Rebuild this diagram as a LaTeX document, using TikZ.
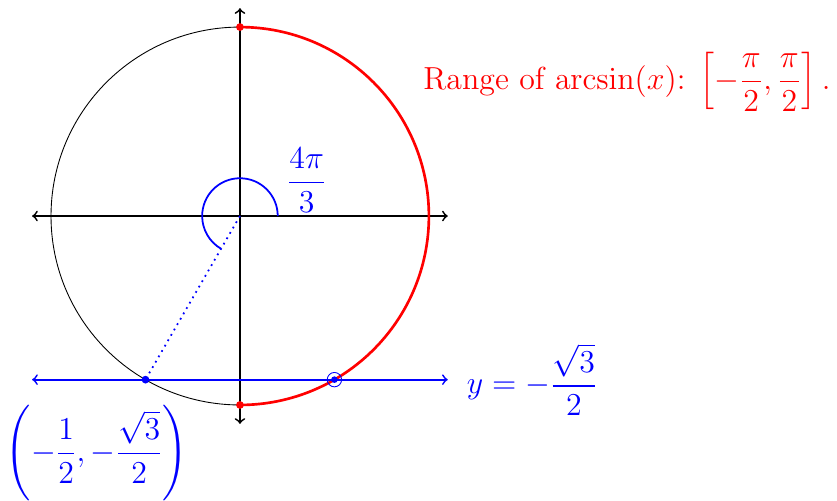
\documentclass[tikz,border=0pt]{standalone}
\usepackage{amsmath}
\usetikzlibrary{calc,positioning}
\tikzset{
	axis/.style={<->, thick, black},%
	unitcircle/.style={thin, black},%
	rangearc/.style={red, very thick},%
	levelline/.style={<->, thick, blue},%
	anglearc/.style={blue, thick},%
	dot/.style={circle, fill, inner sep=0, minimum size=3.5pt},%
	ring/.style={circle, draw, thin, inner sep=0, minimum size=6.5pt},%
}

\begin{document}
\begin{tikzpicture}[font=\Large]
	\useasboundingbox (-3.81,-4.51) rectangle (9.48,3.43);

	\coordinate (O) at (0,0);
	\coordinate (xl) at (-3.3,0);
	\coordinate (xr) at (3.3,0);
	\coordinate (yb) at (0,-3.3);
	\coordinate (yt) at (0,3.3);
	\coordinate (ll) at (-3.3,-2.598);
	\coordinate (lr) at (3.3,-2.598);

	\draw[unitcircle] (O) circle (3);
	\draw[axis] (xl) -- (xr);
	\draw[axis] (yb) -- (yt);

	\node[dot, red] (bot) at (0,-3) {};
	\node[dot, red] (top) at (0,3) {};
	\draw[rangearc] (bot.center) arc (-90:90:3);

	\draw[levelline] (ll) -- (lr);
	\node[dot, blue] (p) at (240:3) {};
	\node[dot, blue, minimum size=3pt] (q) at (300:3) {};
	\node[ring, blue] (qring) at (q) {};

	\draw[anglearc] (0.6,0) arc (0:240:0.6);
	\draw[blue, thick, dotted] (O) -- (p);

	\node[blue] (ang) at (1.06,0.57) {$\dfrac{4\pi}{3}$};
	\node[red, anchor=west] (range) at (2.79,2.13) {Range of $\arcsin(x)$: $\left[-\dfrac{\pi}{2},\dfrac{\pi}{2}\right].$};
	\node[blue, right=0.18cm of lr] (lineeq) {$y=-\dfrac{\sqrt{3}}{2}$};
	\node[blue, below=0.22cm of p, xshift=-0.77cm] (plabel) {$\left(-\dfrac{1}{2},-\dfrac{\sqrt{3}}{2}\right)$};
\end{tikzpicture}
\end{document}
